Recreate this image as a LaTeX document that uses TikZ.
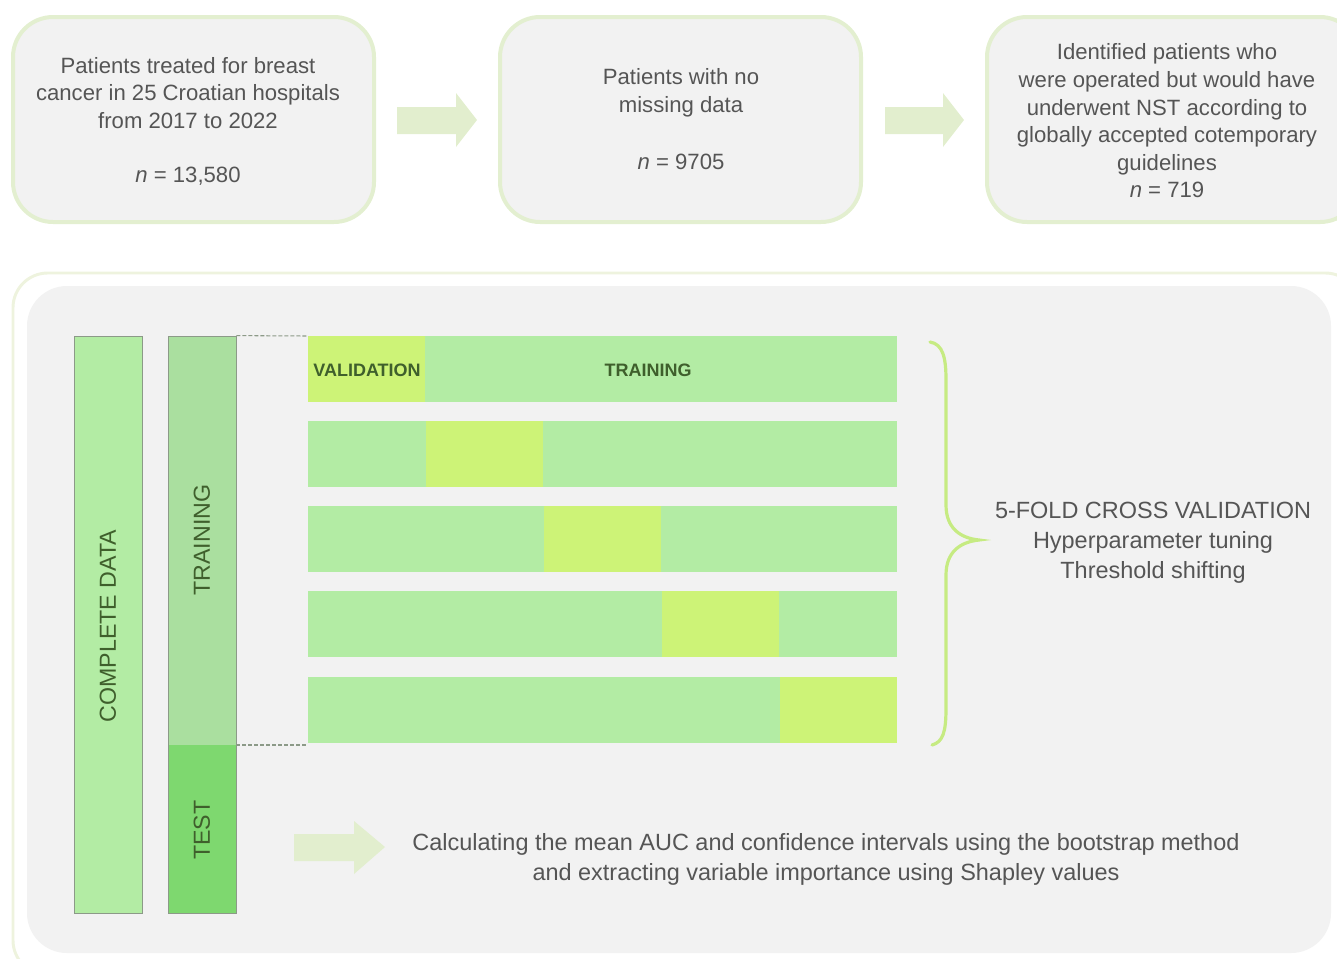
\documentclass[tikz,border=0pt]{standalone}
\usepackage{fontspec}
\setmainfont{Liberation Sans}
\usetikzlibrary{positioning}
\definecolor{boxfill}{HTML}{F2F2F2}
\definecolor{boxline}{HTML}{E3EFD0}
\definecolor{outline}{HTML}{EEF3DE}
\definecolor{arrowfill}{HTML}{E2EECE}
\definecolor{txt}{HTML}{555555}
\definecolor{trainc}{HTML}{B3ECA4}
\definecolor{trainbar}{HTML}{AADF9F}
\definecolor{testc}{HTML}{7ED86F}
\definecolor{valc}{HTML}{CDF377}
\definecolor{lbl}{HTML}{3F5F2C}
\definecolor{barline}{HTML}{8C9A88}
\definecolor{bracec}{HTML}{C6EB82}
\tikzset{
  topbox/.style={draw=boxline, line width=3pt, fill=boxfill, rounded corners=30pt, inner sep=0pt},
  maintext/.style={text=txt, font=\fontsize{16.6}{20.7}\selectfont, align=center, inner sep=0pt},
  bigtext/.style={text=txt, font=\fontsize{17.6}{22.5}\selectfont, align=center, inner sep=0pt},
  barlabel/.style={text=lbl, font=\fontsize{17.4}{20}\selectfont, rotate=90, inner sep=0pt},
  foldlabel/.style={text=lbl, font=\fontsize{13.5}{16}\selectfont\bfseries, inner sep=0pt},
  blockarrow/.style={fill=arrowfill, draw=none},
}
\begin{document}
\begin{tikzpicture}[x=0.75pt, y=-0.75pt]
\useasboundingbox (0,0) rectangle (1337,958);
\begin{scope}
\clip (0,0) rectangle (1337,958);
% top boxes
\draw[topbox] (13,17) rectangle (374,222);
\draw[topbox] (500,17) rectangle (861,222);
\draw[topbox] (987,17) rectangle (1360,222);
% bottom panel
\draw[draw=outline, line width=2.2pt, fill=white, rounded corners=26pt] (13,273) rectangle (1360,975);
\fill[boxfill, rounded corners=30pt] (27,286) rectangle (1331,953);
\end{scope}

% top texts
\node[maintext] (t1) at (188,93) {Patients treated for breast\\cancer in 25 Croatian hospitals\\from 2017 to 2022};
\node[maintext] (n1) at (188,176) {\textit{n} = 13,580};
\node[maintext] (t2) at (681,93) {Patients with no\\missing data};
\node[maintext] (n2) at (681,162) {\textit{n} = 9705};
\node[maintext] (t3) at (1167,121) {Identified patients who\\were operated but would have\\underwent NST according to\\globally accepted cotemporary\\guidelines\\\textit{n} = 719};

% arrows between boxes
\fill[blockarrow] (397,107) -- (456,107) -- (456,93) -- (477,120) -- (456,147) -- (456,134) -- (397,134) -- cycle;
\fill[blockarrow] (885,107) -- (943,107) -- (943,93) -- (964,120) -- (943,147) -- (943,134) -- (885,134) -- cycle;

% complete data bar
\node[draw=barline, line width=0.6pt, fill=trainc, minimum width=51pt, minimum height=432.75pt, inner sep=0pt] (cd) at (108,624.5) {};
\node[barlabel] (cdl) at (108,626) {COMPLETE DATA};
% training / test bar
\fill[trainbar] (168,336) rectangle (236,745);
\fill[testc] (168,745) rectangle (236,913);
\node[draw=barline, line width=0.6pt, minimum width=51pt, minimum height=432.75pt, inner sep=0pt] (tt) at (202,624.5) {};
\node[barlabel] (trl) at (202,540) {TRAINING};
\node[barlabel] (tsl) at (202,830) {TEST};

% folds
\foreach \r/\y/\v in {1/336/308, 2/421/426, 3/506/544, 4/591/662, 5/677/780}{
  \fill[trainc] (308,\y) rectangle (897,\y+66);
  \fill[valc] (\v,\y) rectangle (\v+117,\y+66);
}
\coordinate (f1tl) at (308,336);
\coordinate (f5bl) at (308,745);
\draw[barline, line width=0.8pt, dash pattern=on 3pt off 1.5pt] (tt.north east) -- (f1tl);
\draw[barline, line width=0.8pt, dash pattern=on 3pt off 1.5pt] (236,745) -- (f5bl);
\node[foldlabel] (vl) at (367,370) {VALIDATION};
\node[foldlabel] (tl) at (648,370) {TRAINING};

% brace
\draw[bracec, line width=2.4pt, line cap=round] (930,342) .. controls (943,344) and (946,358) .. (946,380) -- (946,505) .. controls (946,528) and (960,538) .. (979,540) .. controls (960,542) and (946,552) .. (946,575) -- (946,708) .. controls (946,732) and (943,742) .. (932,745);
\node[bigtext] (cv) at (1153,543) {5-FOLD CROSS VALIDATION\\Hyperparameter tuning\\Threshold shifting};

% bottom arrow
\fill[blockarrow] (294,834) -- (354,834) -- (354,821) -- (385,847) -- (354,874) -- (354,861) -- (294,861) -- cycle;
\node[bigtext] (calc) at (826,859) {Calculating the mean AUC and confidence intervals using the bootstrap method\\and extracting variable importance using Shapley values};
\end{tikzpicture}
\end{document}
